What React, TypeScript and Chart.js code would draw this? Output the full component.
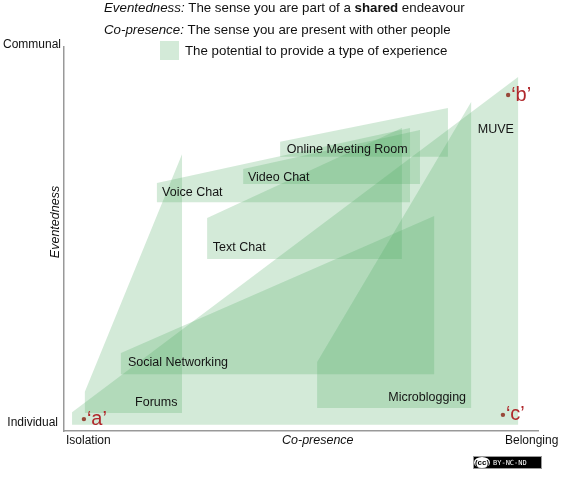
import { useEffect, useRef } from "react"
import { Chart, registerables } from "chart.js"

Chart.register(...registerables)

// axes run 0..100: x = co-presence (Isolation -> Belonging), y = eventedness (Individual -> Communal)
const shapeNames = ["MUVE", "Forums", "Social Networking", "Microblogging", "Text Chat", "Voice Chat", "Video Chat", "Online Meeting Room"]

const muveX = [1.7, 1.7, 95.8, 95.8]
const muveY = [1.6, 4.9, 92.2, 1.6]
const forumsX = [4.4, 4.4, 24.9, 24.9]
const forumsY = [4.7, 10.2, 72.1, 4.7]
const socialX = [12.0, 12.0, 78.1, 78.1]
const socialY = [14.8, 20.3, 56.0, 14.8]
const microX = [53.4, 53.4, 85.9, 85.9]
const microY = [6.0, 18.0, 85.7, 6.0]
const textChatX = [30.2, 30.2, 71.3, 71.3]
const textChatY = [44.8, 55.5, 78.9, 44.8]
const voiceX = [19.6, 19.6, 73.0, 73.0]
const voiceY = [59.6, 64.6, 78.9, 59.6]
const videoX = [37.8, 37.8, 75.1, 75.1]
const videoY = [64.3, 68.2, 78.4, 64.3]
const meetingX = [45.6, 45.6, 81.0, 81.0]
const meetingY = [71.4, 75.3, 84.1, 71.4]

const shapesX = [muveX, forumsX, socialX, microX, textChatX, voiceX, videoX, meetingX]
const shapesY = [muveY, forumsY, socialY, microY, textChatY, voiceY, videoY, meetingY]

// where each shape's name sits (left edge, middle)
const labelX = [87.3, 15.0, 13.5, 68.4, 31.4, 20.7, 38.8, 47.0]
const labelY = [78.4, 7.3, 17.7, 8.6, 47.9, 62.0, 65.9, 73.2]

const pointNames = ["\u2018a\u2019", "\u2018b\u2019", "\u2018c\u2019"]
const pointX = [4.2, 93.7, 92.6]
const pointY = [3.1, 87.5, 4.2]

const GREEN = "rgba(80, 170, 100, 0.25)"
const RED = "#b0282c"
const SANS = "'Liberation Sans', Arial, Helvetica, sans-serif"

type Run = [string, string]

function drawRuns(ctx: CanvasRenderingContext2D, runs: Run[], x: number, y: number, size: number) {
  let cx = x
  runs.forEach(([text, style]) => {
    ctx.font = `${style} ${size}px ${SANS}`
    ctx.fillText(text, cx, y)
    cx += ctx.measureText(text).width
  })
}

const textPlugin = {
  id: "textPlugin",
  afterDatasetsDraw(chart: Chart) {
    const { ctx, chartArea } = chart
    const xs = chart.scales.x
    const ys = chart.scales.y
    ctx.save()
    ctx.textBaseline = "middle"
    ctx.textAlign = "left"

    // shape names
    ctx.fillStyle = "#141414"
    ctx.font = `12.5px ${SANS}`
    shapeNames.forEach((name, i) => {
      ctx.fillText(name, xs.getPixelForValue(labelX[i]), ys.getPixelForValue(labelY[i]))
    })

    // point names
    ctx.fillStyle = RED
    ctx.font = `20px ${SANS}`
    pointNames.forEach((name, i) => {
      ctx.fillText(name, xs.getPixelForValue(pointX[i]) + 3, ys.getPixelForValue(pointY[i]))
    })

    // header
    ctx.fillStyle = "#111"
    drawRuns(ctx, [["Eventedness:", "italic"], [" The sense you are part of a ", "normal"], ["shared", "bold"], [" endeavour", "normal"]], 104, 8, 13.3)
    drawRuns(ctx, [["Co-presence:", "italic"], [" The sense you are present with other people", "normal"]], 104, 30, 13.3)
    ctx.fillStyle = GREEN
    ctx.fillRect(160, 41, 19, 19)
    ctx.fillStyle = "#111"
    drawRuns(ctx, [["The potential to provide a type of experience", "normal"]], 185, 51, 13.3)

    // axis end labels
    ctx.font = `12px ${SANS}`
    ctx.textAlign = "right"
    ctx.fillText("Communal", chartArea.left - 3, chartArea.top - 2)
    ctx.fillText("Individual", chartArea.left - 6, chartArea.bottom - 8)
    ctx.textAlign = "left"
    ctx.fillText("Isolation", chartArea.left + 2, chartArea.bottom + 10)
    ctx.fillText("Belonging", 505, chartArea.bottom + 10)
    ctx.font = `italic 12.5px ${SANS}`
    ctx.fillText("Co-presence", 282, chartArea.bottom + 10)
    ctx.save()
    ctx.translate(56, 222)
    ctx.rotate(-Math.PI / 2)
    ctx.textAlign = "center"
    ctx.fillText("Eventedness", 0, 0)
    ctx.restore()

    // licence badge
    ctx.fillStyle = "#000"
    ctx.strokeStyle = "#9a9a9a"
    ctx.lineWidth = 1
    ctx.fillRect(473, 456, 69, 13)
    ctx.strokeRect(473.5, 456.5, 68, 12)
    ctx.fillStyle = "#fff"
    ctx.beginPath()
    ctx.ellipse(482, 462.5, 8, 5.5, 0, 0, Math.PI * 2)
    ctx.fill()
    ctx.fillStyle = "#000"
    ctx.font = `bold 8px ${SANS}`
    ctx.textAlign = "center"
    ctx.fillText("(cc)", 482, 463)
    ctx.fillStyle = "#fff"
    ctx.font = `7px 'DejaVu Sans Mono', monospace`
    ctx.textAlign = "left"
    ctx.fillText("BY-NC-ND", 493, 463)
    ctx.restore()
  },
}

export default function App() {
  const chartRef = useRef<HTMLCanvasElement>(null)
  const chartInstance = useRef<Chart | null>(null)

  useEffect(() => {
    document.body.style.margin = "0"
    if (!chartRef.current) return
    if (chartInstance.current) chartInstance.current.destroy()

    const ctx = chartRef.current.getContext("2d")
    if (!ctx) return

    const shapeSets = shapeNames.map((name, i) => ({
      label: name,
      data: shapesX[i].map((x, j) => ({ x, y: shapesY[i][j] })),
      showLine: true,
      fill: "shape" as const,
      backgroundColor: GREEN,
      borderWidth: 0,
      borderColor: "rgba(0,0,0,0)",
      pointRadius: 0,
      tension: 0,
    }))

    chartInstance.current = new Chart(ctx, {
      type: "scatter",
      data: {
        datasets: [
          ...shapeSets,
          {
            label: "points",
            data: pointX.map((x, i) => ({ x, y: pointY[i] })),
            pointRadius: 2.2,
            pointBackgroundColor: RED,
            pointBorderWidth: 0,
            showLine: false,
          },
        ],
      },
      options: {
        responsive: true,
        maintainAspectRatio: false,
        animation: false,
        layout: { autoPadding: false, padding: { left: 64, right: 24, top: 47, bottom: 49 } },
        plugins: {
          legend: { display: false },
          tooltip: { enabled: false },
        },
        scales: {
          x: {
            type: "linear",
            min: 0,
            max: 100,
            grid: { display: false, drawTicks: false },
            ticks: { display: false },
            border: { display: true, color: "#999", width: 1.5 },
          },
          y: {
            type: "linear",
            min: 0,
            max: 100,
            grid: { display: false, drawTicks: false },
            ticks: { display: false },
            border: { display: true, color: "#999", width: 1.5 },
          },
        },
      },
      plugins: [textPlugin],
    })

    return () => {
      if (chartInstance.current) {
        chartInstance.current.destroy()
        chartInstance.current = null
      }
    }
  }, [])

  return (
    <div style={{ position: "relative", width: 562, height: 480, background: "#fff" }}>
      <canvas ref={chartRef} />
    </div>
  )
}
